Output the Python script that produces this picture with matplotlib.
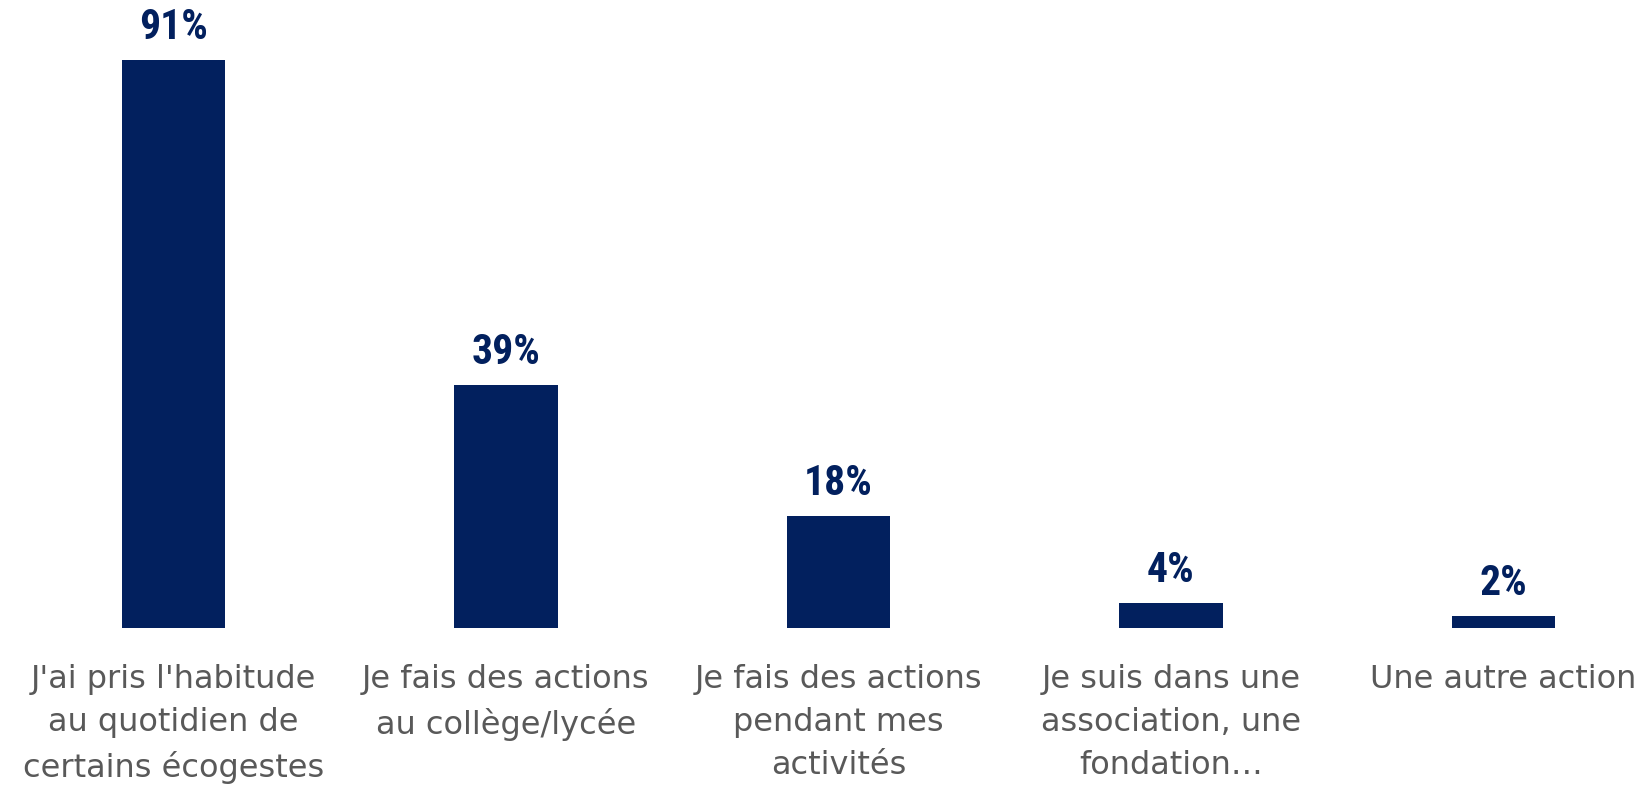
import matplotlib.pyplot as plt

categories = [
    "J'ai pris l'habitude\nau quotidien de\ncertains écogestes",
    "Je fais des actions\nau collège/lycée",
    "Je fais des actions\npendant mes\nactivités",
    "Je suis dans une\nassociation, une\nfondation…",
    "Une autre action",
]
values = [91, 39, 18, 4, 2]

navy = "#02205e"
grey = "#595959"

fig = plt.figure(figsize=(16.42, 7.88), dpi=100)
# bars sit on a baseline 160 px above the bottom edge
ax = fig.add_axes([0, 160 / 788, 1, 628 / 788])

x = list(range(len(values)))
bars = ax.bar(x, values, width=0.31, color=navy)

# value labels above each bar
for b, v in zip(bars, values):
    ax.annotate(f"{v}%", (b.get_x() + b.get_width() / 2, v),
                xytext=(0, 15), textcoords="offset points",
                ha="center", va="baseline", fontsize=30, fontweight="bold",
                color=navy, family=["Roboto Condensed", "DejaVu Sans"])

# category labels under the bars
for i, lab in zip(x, categories):
    ax.annotate(lab, (i, 0), xytext=(0, -26), textcoords="offset points",
                ha="center", va="top", multialignment="center",
                fontsize=23, color=grey, linespacing=1.5, family="DejaVu Sans")

ax.set_xticks([])
ax.set_yticks([])
for s in ax.spines.values():
    s.set_visible(False)

ax.set_xlim(-173.5 / 332.5, (1642 - 173.5) / 332.5)
ax.set_ylim(0, 628 / 568 * 91)

fig.savefig("out.png", dpi=100)
